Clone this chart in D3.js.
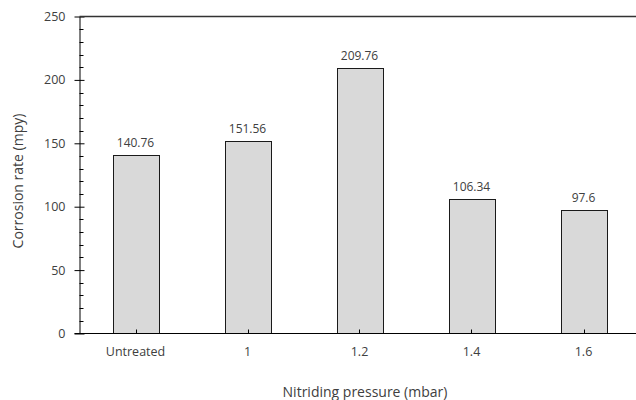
<!DOCTYPE html>
<html><head><meta charset="utf-8">
<script src="https://cdn.jsdelivr.net/npm/d3@7"></script>
<style>
html,body{margin:0;padding:0;background:#fff;}
text{font-family:"Open Sans",Lato,sans-serif;}
</style></head>
<body>
<svg id="chart" width="636" height="400"></svg>
<script>
const categories = ["Untreated", "1", "1.2", "1.4", "1.6"];
const values = [140.76, 151.56, 209.76, 106.34, 97.6];
const valueLabels = ["140.76", "151.56", "209.76", "106.34", "97.6"];
const yTicks = [0, 50, 100, 150, 200, 250];
const yMinorTicks = d3.range(0, 251, 10);

const svg = d3.select("#chart");
const mLeft = 79.5, mRight = 639.5, mTop = 16.5, mBottom = 333.5;
const fontFam = "'Open Sans', Lato, sans-serif";

const x = d3.scaleBand().domain(categories).range([mLeft, mRight]).paddingInner(0.59).paddingOuter(0.295);
const y = d3.scaleLinear().domain([0, 250]).range([mBottom, mTop]);

const textColor = "#404040";

// bars
svg.append("g").selectAll("rect").data(values).join("rect")
  .attr("x", (d, i) => Math.round(x(categories[i])) + 0.5)
  .attr("y", d => Math.round(y(d)) + 0.5)
  .attr("width", Math.round(x.bandwidth()))
  .attr("height", d => mBottom - (Math.round(y(d)) + 0.5))
  .attr("fill", "#d9d9d9")
  .attr("stroke", "#1a1a1a")
  .attr("stroke-width", 1);

// value labels
svg.append("g").selectAll("text").data(values).join("text")
  .attr("x", (d, i) => x(categories[i]) + x.bandwidth() / 2)
  .attr("y", d => y(d) - 8)
  .attr("text-anchor", "middle")
  .attr("font-size", 12)
  .attr("fill", textColor)
  .text((d, i) => valueLabels[i]);

// y axis
const yAxis = svg.append("g").attr("transform", `translate(${mLeft},0)`)
  .call(d3.axisLeft(y).tickValues(yTicks).tickSize(5).tickSizeOuter(0).tickPadding(9));
yAxis.select(".domain").attr("stroke", "#000");
yAxis.selectAll(".tick line").attr("stroke", "#000").attr("x2", 5).attr("x1", -5);
yAxis.selectAll(".tick text").attr("font-size", 12.5).attr("fill", textColor)
  .attr("font-family", fontFam);
// minor ticks
svg.append("g").selectAll("line").data(yMinorTicks.filter(v => v % 50 !== 0)).join("line")
  .attr("x1", mLeft).attr("x2", mLeft + 4)
  .attr("y1", d => Math.round(y(d)) + 0.5).attr("y2", d => Math.round(y(d)) + 0.5)
  .attr("stroke", "#000");

// top border
svg.append("line").attr("x1", mLeft).attr("x2", 636).attr("y1", mTop).attr("y2", mTop)
  .attr("stroke", "#333").attr("stroke-width", 1.5);

// x axis
const xAxis = svg.append("g").attr("transform", `translate(0,${mBottom})`)
  .call(d3.axisBottom(x).tickSize(0).tickSizeOuter(0).tickPadding(14));
xAxis.select(".domain").remove();
svg.append("line").attr("x1", mLeft - 5).attr("x2", 636).attr("y1", mBottom).attr("y2", mBottom)
  .attr("stroke", "#000");
xAxis.selectAll(".tick text").attr("font-size", 12.5).attr("fill", textColor)
  .attr("font-family", fontFam);
svg.append("g").selectAll("line").data(categories).join("line")
  .attr("x1", d => Math.round(x(d) + x.bandwidth() / 2) + 0.5)
  .attr("x2", d => Math.round(x(d) + x.bandwidth() / 2) + 0.5)
  .attr("y1", mBottom).attr("y2", mBottom - 4)
  .attr("stroke", "#000");

// axis titles
svg.append("text").attr("x", 365).attr("y", 397).attr("text-anchor", "middle")
  .attr("font-size", 14).attr("fill", textColor).text("Nitriding pressure (mbar)");
svg.append("text").attr("transform", `translate(23,181) rotate(-90)`).attr("text-anchor", "middle")
  .attr("font-size", 14).attr("fill", textColor).text("Corrosion rate (mpy)");
</script>
</body></html>
